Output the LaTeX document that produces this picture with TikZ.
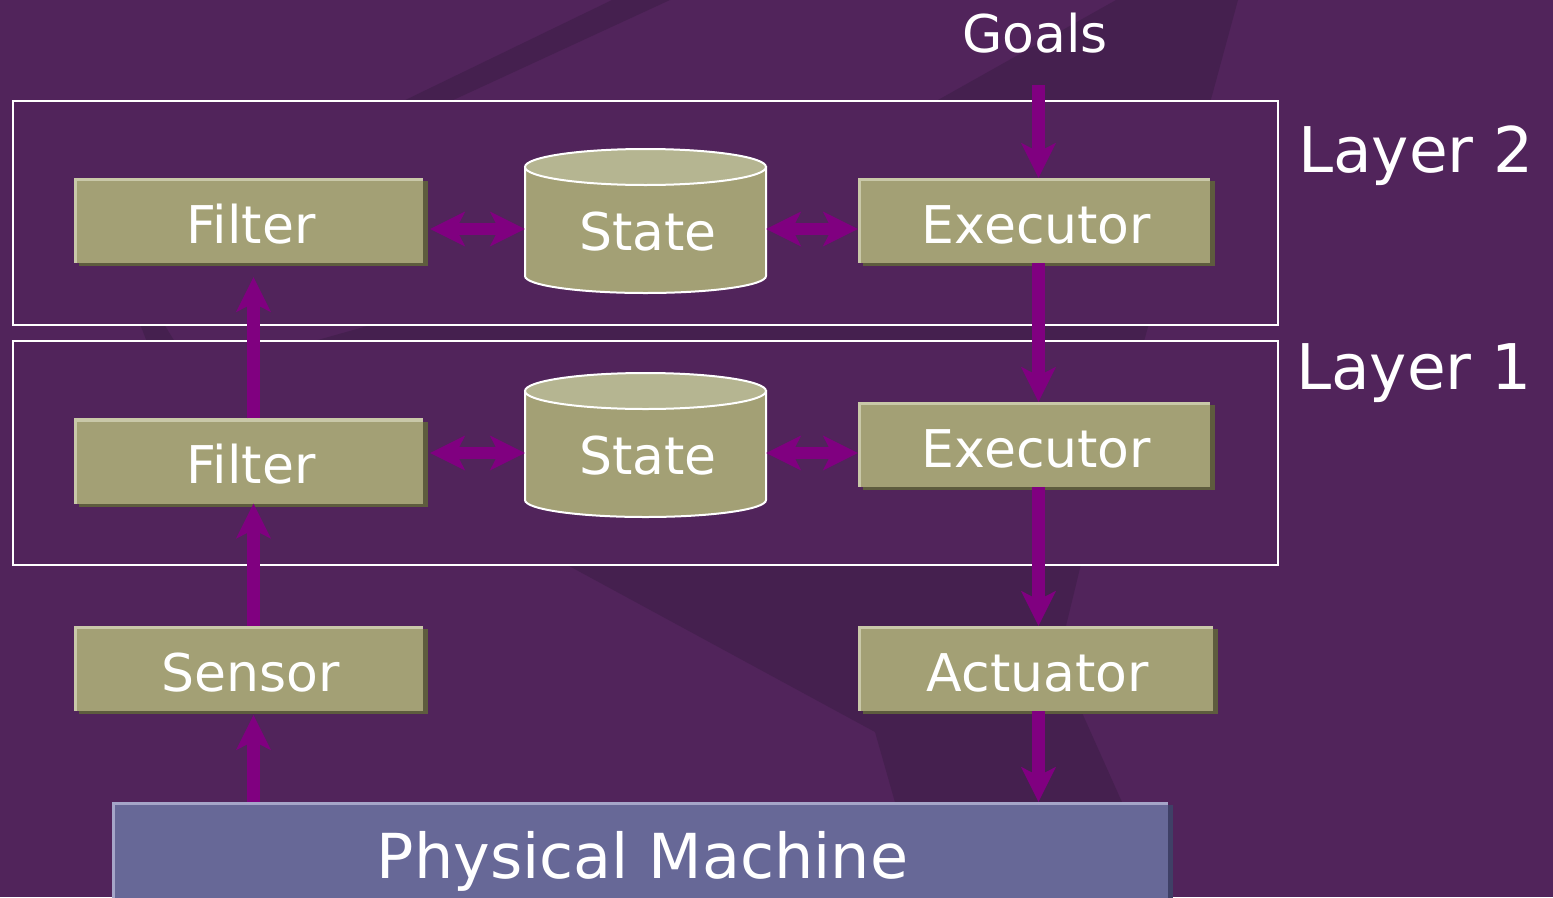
\documentclass[tikz,border=0pt]{standalone}
\usepackage{fontspec}
\setmainfont{DejaVu Sans}
\usetikzlibrary{arrows.meta,shadows}

\definecolor{bgpurple}{HTML}{51245B}
\definecolor{bgdark}{HTML}{45204F}
\definecolor{flow}{HTML}{800080}
\definecolor{khaki}{HTML}{A3A075}
\definecolor{khakilight}{HTML}{C9C8A8}
\definecolor{khakidark}{HTML}{5E5C3E}
\definecolor{khakitop}{HTML}{B5B591}
\definecolor{machine}{HTML}{676897}
\definecolor{machinelight}{HTML}{A5A5C8}
\definecolor{machinedark}{HTML}{3F4066}

\tikzset{
  bevel/.style n args={3}{
    fill=#1,
    drop shadow={shadow xshift=5pt, shadow yshift=-3pt, fill=#3, opacity=1},
    path picture={\draw[#2, line width=6pt]
      (path picture bounding box.south west) -- (path picture bounding box.north west)
      -- (path picture bounding box.north east);}},
  nudged/.style={execute at begin node=\hspace*{5pt}},
  block/.style={rectangle, bevel={khaki}{khakilight}{khakidark}, nudged,
    minimum width=349pt, minimum height=85pt, inner sep=0pt, text=white,
    font=\fontsize{52pt}{60pt}\selectfont, text height=45pt, text depth=0pt},
  machinebox/.style={rectangle, bevel={machine}{machinelight}{machinedark}, nudged,
    minimum width=1056pt, minimum height=116pt, inner sep=0pt, text=white,
    font=\fontsize{62pt}{70pt}\selectfont, text height=36pt, text depth=0pt},
  drumlabel/.style={rectangle, nudged, minimum width=241pt, minimum height=144pt,
    inner sep=0pt, text=white, font=\fontsize{52pt}{60pt}\selectfont,
    text height=58pt, text depth=0pt},
  sidetext/.style={inner sep=0pt, text=white, font=\fontsize{63pt}{70pt}\selectfont},
  toptext/.style={inner sep=0pt, text=white, font=\fontsize{52pt}{60pt}\selectfont},
  frame/.style={draw=white, line width=2pt, fill=bgpurple},
  flowarrow/.style={draw=flow, line width=12.5pt,
    -{Stealth[length=35pt,width=35pt,inset=9pt,line width=0pt]}},
  twoway/.style={draw=flow, line width=12.5pt,
    {Stealth[length=35pt,width=35pt,inset=9pt,line width=0pt]}-{Stealth[length=35pt,width=35pt,inset=9pt,line width=0pt]}},
  drum/.pic={
    \path[fill=khaki, draw=white, line width=2pt]
      (-120.5,-54) -- (-120.5,55)
      arc[start angle=180, end angle=360, x radius=120.5pt, y radius=17pt]
      -- (120.5,-54) -- cycle;
    \path[fill=khakitop, draw=white, line width=2pt]
      (0,-54) ellipse [x radius=120.5pt, y radius=18pt];
  }
}

\begin{document}
\begin{tikzpicture}[x=1pt,y=-1pt]
\useasboundingbox (0,0) rectangle (1553,897);
\clip (0,0) rectangle (1553,897);

% background and its darker facets
\fill[bgpurple] (0,0) rectangle (1553,897);
\fill[bgdark] (612,0) -- (670,0) -- (410,120) -- (364,120) -- cycle;
\fill[bgdark] (1116,0) -- (1238,0) -- (1213,92) -- (1143,345) -- (300,345)
  -- (371,325) -- (938,100) -- cycle;
\fill[bgdark] (140,324) -- (164,324) -- (175,342) -- (147,342) -- cycle;
\fill[bgdark] (558,560) -- (1082,560) -- (1058,659) -- (1130,820) -- (900,820)
  -- (875,732) -- cycle;

% layer frames
\draw[frame] (13,101) rectangle (1278,325);
\draw[frame] (13,341) rectangle (1278,565);

% data stores
\pic at (645.5,221) {drum};
\pic at (645.5,445) {drum};

% components
\node[block] (f2) at (248.5,220.5) {Filter};
\node[block] (f1) at (248.5,461) {Filter};
\node[block] (sen) at (248.5,668.5) {Sensor};
\node[block, minimum width=352pt] (e2) at (1034,220.5) {Executor};
\node[block, minimum width=352pt] (e1) at (1034,444.5) {Executor};
\node[block, minimum width=355pt] (act) at (1035.5,668.5) {Actuator};
\node[drumlabel] (s2) at (645.5,221) {State};
\node[drumlabel] (s1) at (645.5,445) {State};
\node[machinebox] (pm) at (640,860) {Physical Machine};

% labels
\node[toptext, anchor=base] (goals) at (1035,52) {Goals};
\node[sidetext, anchor=base west] (l2) at (1298,172) {Layer 2};
\node[sidetext, anchor=base west] (l1) at (1296,389) {Layer 1};

% connectors
\coordinate (g0) at (1038.5,85);
\coordinate (lx) at (253.5,0);
\coordinate (r2) at ([yshift=-8pt]s2.west);
\coordinate (r1) at ([yshift=-8pt]s1.west);

\draw[flowarrow] (g0) -- (e2.north -| g0);
\draw[flowarrow] (e2.south -| g0) -- (e1.north -| g0);
\draw[flowarrow] (e1.south -| g0) -- (act.north -| g0);
\draw[flowarrow] (act.south -| g0) -- (pm.north -| g0);

\draw[flowarrow, shorten >=4pt] (pm.north -| lx) -- (sen.south -| lx);
\draw[flowarrow] (sen.north -| lx) -- (f1.south -| lx);
\draw[flowarrow, shorten >=14pt] (f1.north -| lx) -- (f2.south -| lx);

\draw[twoway, shorten <=7pt] (r2 -| f2.east) -- (r2);
\draw[twoway] (r2 -| s2.east) -- (r2 -| e2.west);
\draw[twoway, shorten <=7pt] (r1 -| f1.east) -- (r1);
\draw[twoway] (r1 -| s1.east) -- (r1 -| e1.west);
\end{tikzpicture}
\end{document}
